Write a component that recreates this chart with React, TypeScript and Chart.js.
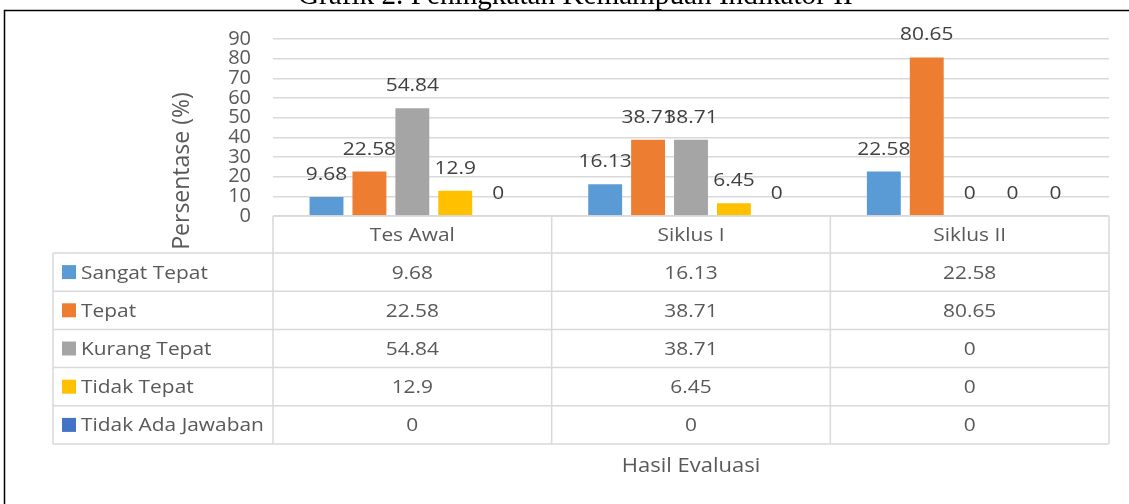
import React, { useEffect, useRef } from "react";
import { Chart, registerables } from "chart.js";

Chart.register(...registerables);

const chartTitle = "Grafik 2. Peningkatan Kemampuan Indikator II";
const yAxisTitle = "Persentase (%)";
const xAxisTitle = "Hasil Evaluasi";
const categories = ["Tes Awal", "Siklus I", "Siklus II"];
const seriesNames = ["Sangat Tepat", "Tepat", "Kurang Tepat", "Tidak Tepat", "Tidak Ada Jawaban"];
const sangatTepat = [9.68, 16.13, 22.58];
const tepat = [22.58, 38.71, 80.65];
const kurangTepat = [54.84, 38.71, 0];
const tidakTepat = [12.9, 6.45, 0];
const tidakAdaJawaban = [0, 0, 0];
const yTickValues = [0, 10, 20, 30, 40, 50, 60, 70, 80, 90];

const seriesValues = [sangatTepat, tepat, kurangTepat, tidakTepat, tidakAdaJawaban];
const seriesColors = ["#5B9BD5", "#ED7D31", "#A5A5A5", "#FFC000", "#4472C4"];

const FONT = "'Open Sans', sans-serif";
const TEXT = "#595959";
const LABEL = "#404040";
const GRID = "#d9d9d9";
const SX = 1.1;

const W = 1129;
const H = 504;
const PLOT_LEFT = 273;
const PLOT_RIGHT = 1109;
const PLOT_TOP = 39;
const PLOT_BOTTOM = 216;
const Y_AXIS_W = 60;

const TABLE_LEFT = 53;
const HEADER_BOTTOM = 253;
const ROW_H = 38.2;

function stretchText(ctx: any, text: string, x: number, y: number, align: "left" | "center" | "right") {
  ctx.save();
  ctx.translate(x, y);
  ctx.scale(SX, 1);
  ctx.textAlign = align;
  ctx.fillText(text, 0, 0);
  ctx.restore();
}

const overlayPlugin = {
  id: "overlay",
  afterDatasetsDraw(chart: any) {
    const ctx = chart.ctx;
    ctx.save();
    ctx.font = `19px ${FONT}`;
    ctx.fillStyle = LABEL;
    ctx.textBaseline = "alphabetic";
    chart.data.datasets.forEach((ds: any, i: number) => {
      const meta = chart.getDatasetMeta(i);
      meta.data.forEach((el: any, j: number) => {
        const v = ds.data[j];
        stretchText(ctx, String(v), el.x, el.y - 17, "center");
      });
    });
    ctx.restore();
  },
  afterDraw(chart: any) {
    const ctx = chart.ctx;
    const area = chart.chartArea;
    const n = categories.length;
    const colW = (area.right - area.left) / n;
    const colX = (k: number) => area.left + k * colW;
    const tableBottom = HEADER_BOTTOM + ROW_H * seriesNames.length;
    ctx.save();

    // table lines
    ctx.strokeStyle = GRID;
    ctx.lineWidth = 1.5;
    ctx.beginPath();
    ctx.moveTo(area.left, area.bottom);
    ctx.lineTo(area.right, area.bottom);
    for (let r = 0; r <= seriesNames.length; r++) {
      const y = HEADER_BOTTOM + r * ROW_H;
      ctx.moveTo(TABLE_LEFT, y);
      ctx.lineTo(area.right, y);
    }
    ctx.moveTo(TABLE_LEFT, HEADER_BOTTOM);
    ctx.lineTo(TABLE_LEFT, tableBottom);
    for (let k = 0; k <= n; k++) {
      ctx.moveTo(colX(k), area.bottom);
      ctx.lineTo(colX(k), tableBottom);
    }
    ctx.stroke();

    // header text
    ctx.font = `19px ${FONT}`;
    ctx.fillStyle = TEXT;
    ctx.textBaseline = "middle";
    categories.forEach((c, k) => {
      stretchText(ctx, c, colX(k) + colW / 2, (area.bottom + HEADER_BOTTOM) / 2 + 1, "center");
    });

    // rows
    seriesNames.forEach((name, r) => {
      const cy = HEADER_BOTTOM + r * ROW_H + ROW_H / 2;
      ctx.fillStyle = seriesColors[r];
      ctx.fillRect(62, cy - 7, 14, 14);
      ctx.fillStyle = TEXT;
      stretchText(ctx, name, 81, cy + 1, "left");
      seriesValues[r].forEach((v, k) => {
        stretchText(ctx, String(v), colX(k) + colW / 2, cy + 1, "center");
      });
    });

    // x axis title
    ctx.font = `20px ${FONT}`;
    stretchText(ctx, xAxisTitle, (area.left + area.right) / 2, 466, "center");

    // y axis title
    ctx.save();
    ctx.font = `23px ${FONT}`;
    ctx.translate(182, 171);
    ctx.rotate(-Math.PI / 2);
    ctx.textAlign = "center";
    ctx.textBaseline = "middle";
    ctx.fillText(yAxisTitle, 0, 0);
    ctx.restore();

    // outer border
    ctx.strokeStyle = "#000";
    ctx.lineWidth = 1.5;
    ctx.strokeRect(4.5, 10.5, W + 50, H + 50);

    // title (cut off at top)
    ctx.fillStyle = "#000";
    ctx.textAlign = "left";
    ctx.textBaseline = "alphabetic";
    ctx.font = `100px 'Liberation Serif', serif`;
    const wRef = ctx.measureText(chartTitle).width;
    const size = (100 * 555) / wRef;
    ctx.font = `${size}px 'Liberation Serif', serif`;
    ctx.fillText(chartTitle, 298, 4);

    ctx.restore();
  },
};

export default function App() {
  const ref = useRef<HTMLCanvasElement>(null);
  useEffect(() => {
    if (!ref.current) return;
    const chart = new Chart(ref.current, {
      type: "bar",
      data: {
        labels: categories,
        datasets: seriesNames.map((name, i) => ({
          label: name,
          data: seriesValues[i],
          backgroundColor: seriesColors[i],
          borderWidth: 0,
          categoryPercentage: 0.77,
          barPercentage: 0.79,
        })),
      },
      options: {
        responsive: false,
        animation: false,
        layout: {
          padding: {
            left: PLOT_LEFT - Y_AXIS_W,
            right: W - PLOT_RIGHT,
            top: PLOT_TOP,
            bottom: H - PLOT_BOTTOM,
          },
        },
        plugins: {
          legend: { display: false },
          title: { display: false },
          tooltip: { enabled: false },
        },
        scales: {
          x: { display: false },
          y: {
            min: 0,
            max: 90,
            afterBuildTicks: (axis: any) => {
              axis.ticks = yTickValues.map((v) => ({ value: v }));
            },
            afterFit: (scale: any) => {
              scale.width = Y_AXIS_W;
            },
            ticks: {
              autoSkip: false,
              padding: 22,
              color: TEXT,
              font: { family: FONT, size: 20 },
            },
            grid: { color: GRID, lineWidth: 1.5, drawTicks: false },
            border: { display: false },
          },
        },
      },
      plugins: [overlayPlugin],
    });
    return () => chart.destroy();
  }, []);
  return (
    <div style={{ position: "fixed", left: 0, top: 0, width: W, height: H, background: "#fff" }}>
      <canvas ref={ref} width={W} height={H} style={{ width: W, height: H }} />
    </div>
  );
}
